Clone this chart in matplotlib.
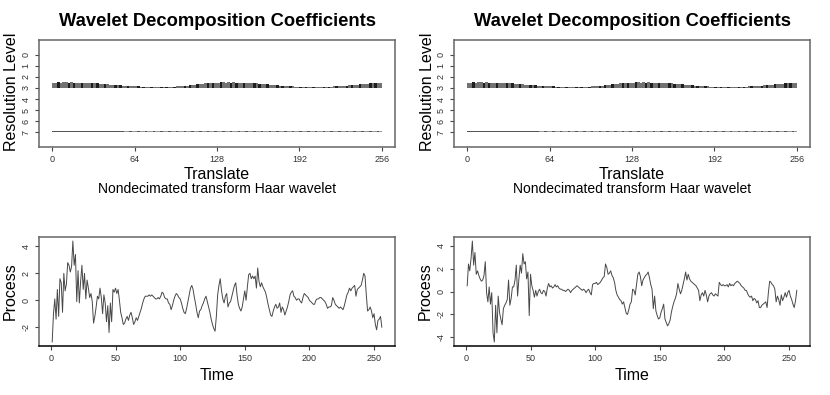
import numpy as np
import matplotlib.pyplot as plt

plt.rcParams['font.family'] = ['Liberation Sans', 'DejaVu Sans']

# wavelet coefficient bar heights (in level units), every second translate
translate = np.arange(1, 257, 2)
level3_coef = [0.48, 0.49, 0.50, 0.49, 0.50, 0.50, 0.49, 0.50, 0.49, 0.48, 0.49, 0.48, 0.47, 0.47, 0.46, 0.45,
               0.44, 0.42, 0.40, 0.38, 0.36, 0.34, 0.31, 0.29, 0.27, 0.25, 0.23, 0.21, 0.19, 0.18, 0.17, 0.16,
               0.15, 0.14, 0.13, 0.12, 0.11, 0.10, 0.10, 0.09, 0.09, 0.09, 0.10, 0.10, 0.11, 0.11, 0.12, 0.13,
               0.14, 0.15, 0.17, 0.19, 0.22, 0.24, 0.27, 0.30, 0.33, 0.36, 0.39, 0.42, 0.44, 0.46, 0.47, 0.48,
               0.49, 0.50, 0.50, 0.49, 0.50, 0.49, 0.50, 0.49, 0.49, 0.48, 0.48, 0.47, 0.46, 0.45, 0.44, 0.42,
               0.40, 0.38, 0.36, 0.33, 0.31, 0.28, 0.26, 0.24, 0.22, 0.20, 0.18, 0.17, 0.15, 0.14, 0.13, 0.12,
               0.11, 0.10, 0.10, 0.09, 0.09, 0.09, 0.09, 0.09, 0.10, 0.10, 0.11, 0.12, 0.13, 0.14, 0.15, 0.16,
               0.18, 0.20, 0.22, 0.24, 0.26, 0.28, 0.30, 0.33, 0.35, 0.37, 0.39, 0.41, 0.43, 0.44, 0.45, 0.46]
level7_coef = [0.10, 0.11, 0.09, 0.11, 0.10, 0.11, 0.10, 0.09, 0.11, 0.10, 0.11, 0.10, 0.09, 0.10,
               0.11, 0.10, 0.09, 0.10, 0.09, 0.10, 0.09, 0.09, 0.09, 0.08, 0.09, 0.08, 0.08, 0.07] + \
              [0.05, 0.06, 0.05, 0.05, 0.06, 0.05, 0.05, 0.05, 0.06, 0.05] * 10
levels = [0, 1, 2, 3, 4, 5, 6, 7]
translate_ticks = [0, 64, 128, 192, 256]

process_left = [
    -3.1, -1.0, 0.1, -1.4, 0.8, -1.2, 1.6, 1.3, -0.9, 2.0, 0.7, 1.2, 2.8, 2.6, 2.1, 2.5,
    4.4, 2.6, 3.4, -0.1, 2.2, -0.2, 1.4, 2.6, 0.8, 2.0, 0.1, 1.5, 0.9, 0.2, 0.5, -0.1,
    -1.7, -1.2, -0.5, 0.3, 0.1, 0.9, 0.2, -1.0, 0.4, -0.2, -1.6, -0.4, -2.4, -0.2, -1.6, 0.8,
    0.6, 0.9, 0.5, 0.8, 0.0, -0.9, -1.3, -1.8, -1.7, -1.4, -1.2, -1.5, -1.1, -0.9, -1.3, -1.8,
    -1.6, -1.3, -1.5, -1.2, -0.9, -0.6, -0.2, 0.1, 0.3, 0.3, 0.3, 0.4, 0.3, 0.4, 0.3, 0.2,
    0.1, 0.1, 0.2, 0.1, 0.3, 0.6, 0.5, 0.2, 0.1, 0.1, -0.2, -0.3, -0.7, -0.4, 0.0, 0.3,
    0.5, 0.4, 0.2, 0.1, -0.2, -0.6, -0.9, -1.0, -0.6, -0.1, 0.4, 0.9, 1.1, 0.8, 0.2, -0.3,
    -0.9, -1.3, -0.8, -0.7, -0.4, -0.2, 0.1, 0.3, -0.1, -0.5, -0.9, -1.4, -1.8, -2.1, -2.3, -1.2,
    0.4, 1.1, 1.6, 0.7, 0.1, -0.2, 0.3, 0.5, -0.5, -0.2, -0.1, 0.3, 0.7, 1.1, 1.3, 0.4,
    -0.3, -0.6, -0.8, -0.5, 0.1, 0.7, 0.0, 1.0, 1.9, 2.0, 1.6, 1.8, 1.6, 1.8, 0.9, 2.4,
    1.4, 1.0, 1.3, 1.0, 0.8, 0.6, 0.2, -0.3, -0.7, -1.1, -1.2, -0.8, -0.5, -0.3, -0.6, -0.5,
    -0.2, -0.9, -0.5, -0.7, -1.1, -0.8, -0.5, -0.1, 0.4, 0.6, 0.7, 0.3, 0.2, 0.0, 0.1, 0.1,
    -0.1, -0.2, 0.2, 0.5, 0.4, 0.3, 0.2, 0.0, -0.1, -0.2, -0.3, -0.3, 0.0, 0.1, 0.1, 0.2,
    0.2, 0.1, 0.0, -0.1, -0.3, -0.6, -0.5, -0.5, -0.4, 0.2, 0.0, -0.3, -0.4, -0.5, -0.6, -0.5,
    -0.6, -0.7, -0.4, 0.0, 0.4, 0.6, 0.9, 0.7, 0.9, 1.0, 1.1, 0.3, 0.8, 0.9, 1.0, 1.1,
    1.5, 2.0, 1.8, 0.4, -0.8, -0.7, -0.5, -0.8, -1.3, -1.0, -1.8, -2.2, -1.5, -1.4, -1.2, -2.0]

process_right = [
    0.5, 2.4, 1.8, 2.9, 4.4, 2.3, 3.4, 1.5, 1.8, 1.4, 1.1, 0.9, 1.0, 1.4, 2.6, -0.1,
    -0.9, 0.4, -1.1, -0.1, -3.6, -4.4, -1.2, -3.6, -0.4, -1.8, -2.4, -2.9, -1.5, -1.2, -1.0, -0.7,
    1.0, -1.2, -0.6, 0.4, 0.4, 1.0, 2.3, -0.4, 1.1, 2.3, 1.6, 3.3, 2.4, 2.6, 1.1, 1.7,
    -2.1, 1.5, 0.5, 0.1, -0.5, 0.1, -0.4, 0.0, 0.2, -0.1, -0.2, 0.1, 0.0, -0.4, 0.3, 0.7,
    0.4, 0.5, 0.3, 0.4, 0.6, 0.4, 0.5, 0.3, 0.2, 0.2, 0.1, 0.1, 0.0, 0.1, 0.2, 0.1,
    -0.1, 0.1, 0.2, 0.3, 0.4, 0.5, 0.4, 0.3, 0.2, 0.1, 0.2, 0.1, -0.1, 0.1, 0.2, -0.1,
    -0.3, 0.6, 0.7, 0.7, 0.8, 0.6, 0.7, 0.8, 1.0, 1.2, 1.3, 2.4, 2.1, 1.5, 1.6, 1.8,
    1.4, 1.2, 0.8, 0.1, -0.3, -0.5, -0.7, -0.8, -1.1, -0.9, -1.4, -1.9, -2.0, -1.6, -1.1, -0.9,
    0.2, 0.1, -0.3, 0.6, 1.5, 1.7, 1.3, 0.5, 1.0, 1.2, 1.4, 1.5, 1.7, 1.2, 0.6, 0.2,
    -1.5, -0.4, -1.7, -2.1, -2.4, -2.3, -1.8, -1.5, -1.1, -2.4, -2.7, -3.0, -2.8, -2.5, -1.8, -1.3,
    -0.9, -0.6, -0.2, 0.7, 0.2, -0.2, 0.1, 0.6, 1.1, 1.7, 1.0, 1.5, 1.1, 0.9, 0.8, 0.7,
    0.6, 0.5, 0.3, 0.1, -0.8, -0.3, -0.1, -0.4, 0.1, -0.3, -0.9, -0.4, -0.2, -0.1, -0.3, -0.4,
    -0.2, -0.3, -0.4, 0.8, 0.6, 0.5, 0.6, 0.5, 0.5, 0.6, 0.4, 0.7, 0.5, 0.6, 0.5, 0.7,
    0.8, 0.9, 0.8, 0.7, 0.5, 0.4, 0.3, 0.1, 0.1, -0.2, -0.4, -0.5, -0.4, -0.8, -0.6, -0.7,
    -1.0, -0.8, -1.4, -1.4, -1.2, -1.1, -1.0, -0.9, -1.4, -0.1, 0.9, 0.8, 0.6, 0.5, 0.2, -0.9,
    -0.4, -0.7, -1.2, -0.3, -0.8, -0.5, -0.1, -0.5, -0.1, 0.1, -0.4, -0.7, -1.1, -1.4, -0.8, 0.1]
time = np.arange(1, len(process_left) + 1)

# grey bars with darker stripes, like the anti-aliased segments of the original
stripe = ['#727272', '#727272', '#1e1e1e', '#727272', '#727272', '#727272', '#1e1e1e', '#727272', '#1e1e1e']
bar_colors = (stripe * 15)[:len(translate)]
light = ['#9a9a9a', '#9a9a9a', '#555555', '#9a9a9a', '#9a9a9a', '#555555']
bar_colors7 = (['#555555'] * 28 + light * 20)[:len(translate)]

W, H = 830, 395
fig = plt.figure(figsize=(W / 100, H / 100), dpi=100)


def px_axes(x0, y0, x1, y1):
    return fig.add_axes([x0 / W, 1 - y1 / H, (x1 - x0) / W, (y1 - y0) / H])


def style(ax):
    for s in ax.spines.values():
        s.set_color('#666666')
        s.set_linewidth(1.1)
    ax.tick_params(direction='out', length=3, width=0.8, color='#444444',
                   labelsize=6.5, labelcolor='#333333', pad=3)


for off in [0, 415]:
    # wavelet decomposition panel
    ax = px_axes(39 + off, 40, 395 + off, 147)
    ax.bar(translate, -np.array(level3_coef), bottom=3, width=2, color=bar_colors, linewidth=0)
    ax.bar(translate, -np.array(level7_coef), bottom=7, width=2, color=bar_colors7, linewidth=0)
    ax.set_xlim(-10.24, 266.24)
    ax.set_ylim(8.36, -1.36)
    ax.set_xticks(translate_ticks)
    ax.set_yticks(levels)
    ax.set_yticklabels(levels, rotation=90, va='center')
    style(ax)
    cx = (217 + off) / W
    fig.text(cx, 1 - 21 / H, 'Wavelet Decomposition Coefficients', ha='center', va='center',
             fontsize=13.2, fontweight='bold')
    fig.text(cx, 1 - 175 / H, 'Translate', ha='center', va='center', fontsize=11.5)
    fig.text(cx, 1 - 189 / H, 'Nondecimated transform Haar wavelet', ha='center', va='center',
             fontsize=10)
    fig.text((12 + off) / W, 1 - 92 / H, 'Resolution Level', ha='center', va='center',
             rotation=90, fontsize=11.5)

# process panels
for off, series, yt in [(0, process_left, [-2, 0, 2, 4]), (415, process_right, [-4, -2, 0, 2, 4])]:
    ax = px_axes(39 + off, 237, 395 + off, 346)
    ax.plot(time, series, color='#484848', linewidth=0.7)
    ax.set_xlim(1 - 0.04 * 255, 256 + 0.04 * 255)
    lo, hi = min(series), max(series)
    ax.set_ylim(lo - 0.04 * (hi - lo), hi + 0.04 * (hi - lo))
    ax.set_xticks([0, 50, 100, 150, 200, 250])
    ax.set_yticks(yt)
    ax.set_yticklabels(yt, rotation=90, va='center')
    style(ax)
    ax.spines['bottom'].set_color('black')
    cx = (217 + off) / W
    fig.text(cx, 1 - 376 / H, 'Time', ha='center', va='center', fontsize=11.5)
    fig.text((10 + off) / W, 1 - 291 / H, 'Process', ha='center', va='center',
             rotation=90, fontsize=11.5)

fig.savefig('out.png', dpi=100)
